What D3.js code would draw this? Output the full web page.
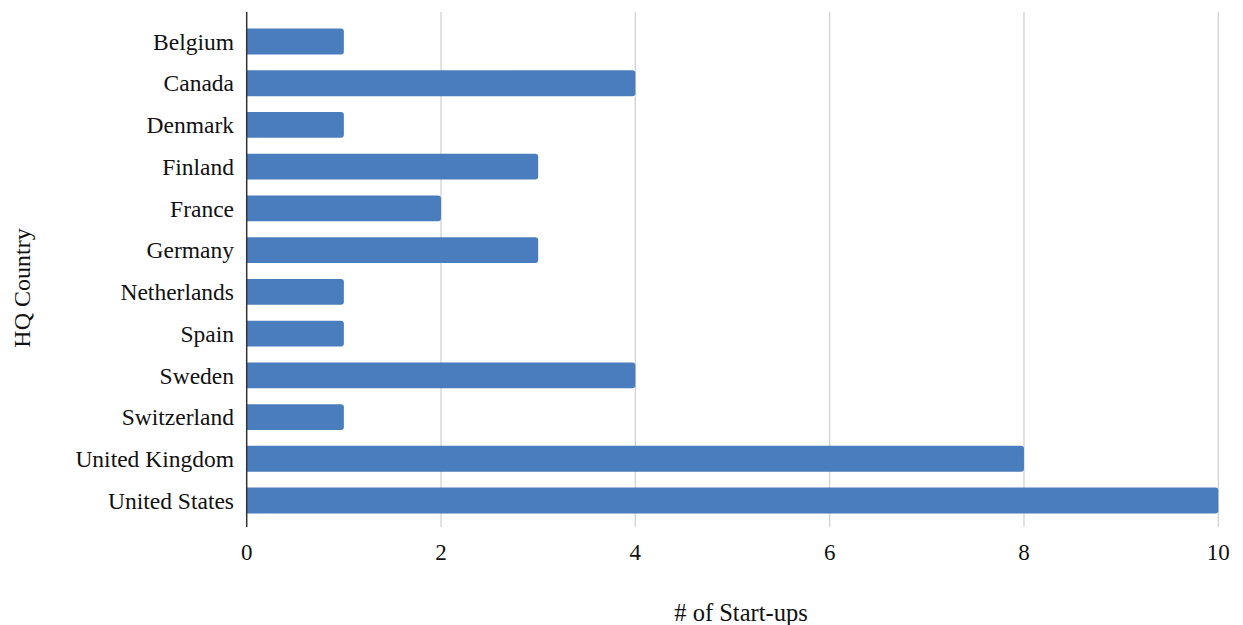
<!DOCTYPE html>
<html><head><meta charset="utf-8">
<script src="https://cdn.jsdelivr.net/npm/d3@7"></script>
<style>body{margin:0;background:#fff}text{font-family:"Liberation Serif","Times New Roman",serif;fill:#111}</style>
</head><body>
<svg id="c" width="1243" height="625"></svg>
<script>
const countries = ["Belgium","Canada","Denmark","Finland","France","Germany","Netherlands","Spain","Sweden","Switzerland","United Kingdom","United States"];
const startups = [1,4,1,3,2,3,1,1,4,1,8,10];
const xTicks = [0,2,4,6,8,10];
const xTitle = "# of Start-ups";
const yTitle = "HQ Country";

const svg = d3.select("#c");
const x = d3.scaleLinear().domain([0,10]).range([246.7,1218.3]);
const y = d3.scaleBand().domain(countries).range([20.6,521.4]).paddingInner(0.38).paddingOuter(0.19);

// grid
svg.append("g").selectAll("line").data(xTicks.filter(d=>d>0)).join("line")
  .attr("x1",d=>x(d)).attr("x2",d=>x(d)).attr("y1",12).attr("y2",527)
  .attr("stroke","#cfcfcf").attr("stroke-width",1.2);

// bars with rounded right end
svg.append("g").selectAll("path").data(countries).join("path")
  .attr("fill","#4a7dbd")
  .attr("d",(c,i)=>{
    const x0=x(0), x1=x(startups[i]), y0=y(c), h=y.bandwidth(), r=3;
    return `M${x0},${y0}H${x1-r}Q${x1},${y0} ${x1},${y0+r}V${y0+h-r}Q${x1},${y0+h} ${x1-r},${y0+h}H${x0}Z`;
  });

// y axis line
svg.append("line").attr("x1",x(0)).attr("x2",x(0)).attr("y1",12).attr("y2",527)
  .attr("stroke","#333").attr("stroke-width",1.5);

// category labels
svg.append("g").selectAll("text").data(countries).join("text")
  .attr("x",234).attr("y",c=>y(c)+y.bandwidth()/2).attr("dy","0.35em")
  .attr("text-anchor","end").attr("font-size",23.5).text(c=>c);

// x tick labels
svg.append("g").selectAll("text").data(xTicks).join("text")
  .attr("x",d=>x(d)).attr("y",552).attr("dy","0.35em")
  .attr("text-anchor","middle").attr("font-size",23).text(d=>d);

svg.append("text").attr("x",741).attr("y",612).attr("dy","0.35em").attr("text-anchor","middle")
  .attr("font-size",24.5).text(xTitle);
svg.append("text").attr("transform","translate(22,288) rotate(-90)").attr("dy","0.35em")
  .attr("text-anchor","middle").attr("font-size",24).text(yTitle);
</script>
</body></html>
